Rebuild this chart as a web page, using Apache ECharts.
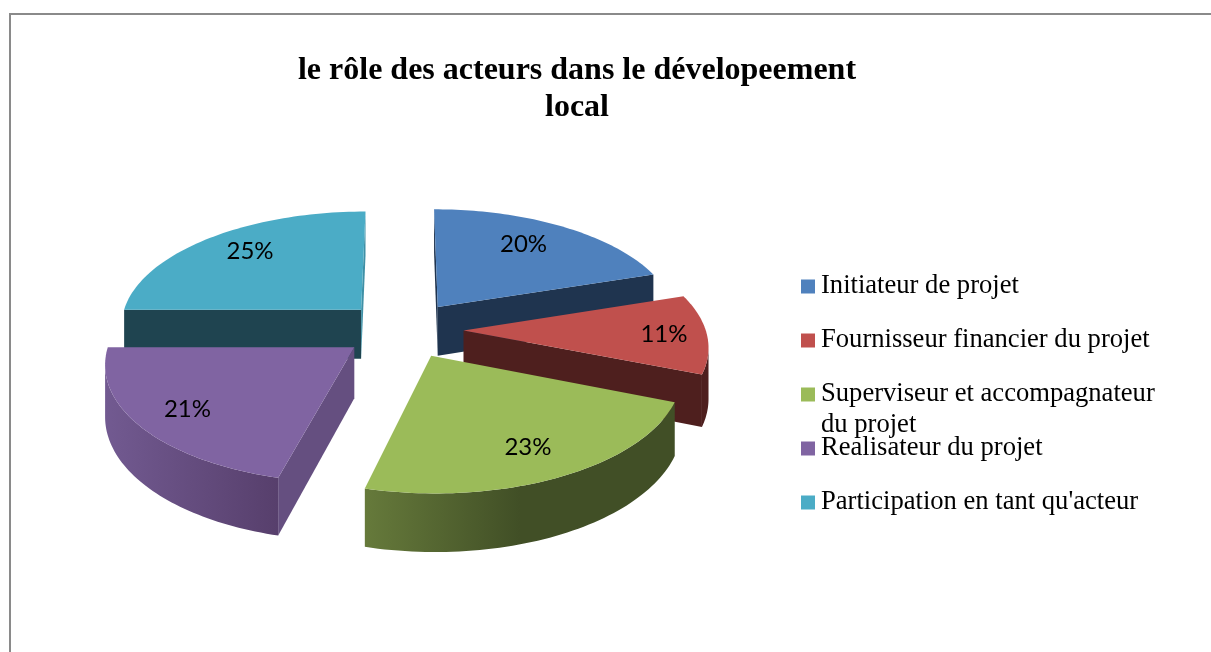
<!DOCTYPE html>
<html>
<head>
<meta charset="utf-8">
<style>
  html, body { margin: 0; background: #fff; }
  #chart { width: 1211px; height: 652px; }
</style>
<script src="https://cdn.jsdelivr.net/npm/echarts@6/dist/echarts.min.js"></script>
</head>
<body>
<div id="chart"></div>
<script>
const categories = ['Initiateur de projet', 'Fournisseur financier du projet', 'Superviseur et accompagnateur du projet', 'Realisateur du projet', "Participation en tant qu'acteur"]
const values = [20, 11, 23, 21, 25]

const topColors = ['#4f81bd', '#c0504d', '#9bbb59', '#8064a2', '#4bacc6']
const startWall = ['#1f344f', '#4e1f1e', '#414f26', '#654f80', '#1f4450']
const endWall = ['#1f344f', '#4e1f1e', '#414f26', '#654f80', '#3f90a6']
const arcStops = [
  [[0, '#1f344f'], [1, '#1f344f']],
  [[0, '#4e1f1e'], [1, '#4e1f1e']],
  [[0, '#667a3b'], [0.5, '#414f26'], [1, '#414f26']],
  [[0, '#725a91'], [1, '#573f6c']],
  [[0, '#1f4450'], [1, '#1f4450']]
]
// painter order, back slices first
const drawOrder = [2, 3, 5, 4, 2]
// small nudges so the percent labels sit where the original has them
const labelNudge = [[-15, 3], [6, 1], [-5, -3], [2, 0], [12, 0]]

// projection of the pie plane, Y positive goes to the back
const cx = 403, cy = 329.5, rx = 242, ky = 114.4, persp = 0.12, depth = 50, explode = 0.25

const project = (x, y, z) => {
  const s = 1 / (1 + persp * y)
  return [cx + rx * x * s, cy - ky * y * s + z * depth * s]
}

const total = values.reduce((a, b) => a + b, 0)
const DEG = Math.PI * 2 / total

const isFront = (pts) => {
  let area = 0
  pts.forEach((p, i) => {
    const q = pts[(i + 1) % pts.length]
    area += p[0] * q[1] - q[0] * p[1]
  })
  return area > 0
}

const makeRenderItem = (index, from, to) => (params, api) => {
  const mid = (from + to) / 2 * DEG
  const ox = explode * Math.sin(mid), oy = explode * Math.cos(mid)
  const rim = (a, r, z) => project(ox + r * Math.sin(a), oy + r * Math.cos(a), z)
  const a0 = from * DEG, a1 = to * DEG
  const steps = 60
  const angles = []
  for (let i = 0; i <= steps; i++) angles.push(a0 + (a1 - a0) * i / steps)

  const children = []
  const addWall = (pts, fill) => {
    children.push({ type: 'polygon', shape: { points: pts }, style: { fill: fill } })
  }

  // radial walls
  const apexTop = project(ox, oy, 0), apexBot = project(ox, oy, 1)
  const startFace = [apexBot, rim(a0, 1, 1), rim(a0, 1, 0), apexTop]
  const endFace = [rim(a1, 1, 1), apexBot, apexTop, rim(a1, 1, 0)]
  if (isFront(startFace)) addWall(startFace, startWall[index])
  if (isFront(endFace)) addWall(endFace, endWall[index])

  // outer wall, only the part facing the viewer
  const visible = angles.filter((a, i) => {
    const b = angles[Math.min(i + 1, steps)]
    const c = angles[Math.max(i - 1, 0)]
    return isFront([rim(b, 1, 0), rim(c, 1, 0), rim(c, 1, 1), rim(b, 1, 1)])
  })
  if (visible.length > 1) {
    const wall = visible.map((a) => rim(a, 1, 0)).concat(visible.slice().reverse().map((a) => rim(a, 1, 1)))
    addWall(wall, new echarts.graphic.LinearGradient(0, 0, 1, 0,
      arcStops[index].map((s) => ({ offset: s[0], color: s[1] }))))
  }

  // top face
  addWall([apexTop].concat(angles.map((a) => rim(a, 1, 0))), topColors[index])

  // percent label
  const lp = project(ox + 0.8 * Math.sin(mid), oy + 0.8 * Math.cos(mid), 0)
  children.push({
    type: 'text',
    x: lp[0] + labelNudge[index][0],
    y: lp[1] + labelNudge[index][1],
    style: {
      text: Math.round(api.value(0) / total * 100) + '%',
      fill: '#000',
      font: '24px Lato',
      align: 'center',
      verticalAlign: 'middle'
    }
  })
  return { type: 'group', children: children }
}

let running = 0
const series = categories.map((name, i) => {
  const from = running
  running += values[i]
  return {
    name: name,
    type: 'custom',
    coordinateSystem: 'none',
    z: drawOrder[i],
    animation: false,
    silent: true,
    itemStyle: { color: topColors[i] },
    data: [[values[i]]],
    renderItem: makeRenderItem(i, from, running)
  }
})

const legendFont = { fontFamily: 'Liberation Serif', fontSize: 26.6, color: '#000' }
const legendTops = [273, 327, 381, 435, 489]

const chart = echarts.init(document.getElementById('chart'))
chart.setOption({
  animation: false,
  backgroundColor: '#fff',
  title: {
    text: 'le rôle des acteurs dans le dévelopeement\nlocal',
    left: 572,
    top: 47,
    textAlign: 'center',
    textStyle: {
      fontFamily: 'Liberation Serif',
      fontSize: 32,
      fontWeight: 'bold',
      lineHeight: 37,
      color: '#000'
    }
  },
  legend: categories.map((name, i) => ({
    data: [name],
    left: 801,
    top: legendTops[i],
    padding: 0,
    icon: 'rect',
    itemWidth: 14,
    itemHeight: 14,
    itemGap: 0,
    selectedMode: false,
    textStyle: Object.assign({ padding: [0, 0, 0, 1] }, legendFont),
    formatter: (n) => n.replace('accompagnateur du projet', 'accompagnateur')
  })),
  graphic: [
    {
      type: 'polyline',
      shape: { points: [[10, 652], [10, 14], [1211, 14]] },
      style: { stroke: '#8a8a8a', lineWidth: 2, fill: null },
      silent: true
    },
    {
      type: 'text',
      x: 821,
      y: 425,
      style: { text: 'du projet', fill: '#000', font: '26.6px Liberation Serif', verticalAlign: 'middle' },
      silent: true
    }
  ],
  series: series
})
</script>
</body>
</html>
